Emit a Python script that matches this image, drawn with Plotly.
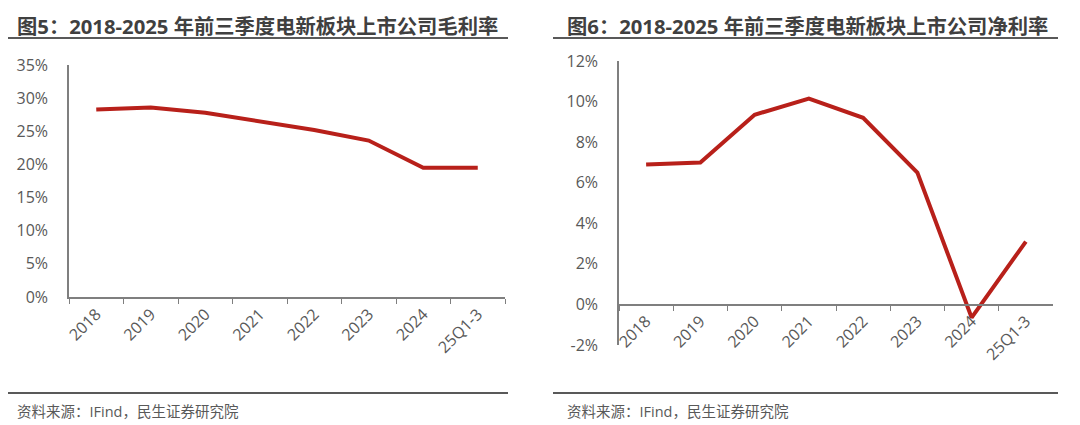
import plotly.graph_objects as go

categories = ["2018", "2019", "2020", "2021", "2022", "2023", "2024", "25Q1-3"]
gross_margin = [28.3, 28.6, 27.8, 26.5, 25.2, 23.6, 19.5, 19.5]
net_margin = [6.9, 7.0, 9.35, 10.15, 9.2, 6.5, -0.65, 3.1]
left_yticks = [0, 5, 10, 15, 20, 25, 30, 35]
right_yticks = [-2, 0, 2, 4, 6, 8, 10, 12]

W, H = 1080, 425
OFF = 8  # page body margin offset
RED = "#B8201A"
AX = "#7F7F7F"
TXT = "#595959"
FONT = "Open Sans, Noto Sans CJK SC, sans-serif"

def px(x):
    return (x - OFF) / W

def py(y):
    return (H - (y - OFF)) / H

fig = go.Figure()
fig.add_trace(go.Scatter(x=categories, y=gross_margin, mode="lines",
                         line=dict(color=RED, width=4), xaxis="x", yaxis="y",
                         showlegend=False, hoverinfo="skip"))
fig.add_trace(go.Scatter(x=categories, y=net_margin, mode="lines",
                         line=dict(color=RED, width=4), xaxis="x2", yaxis="y2",
                         showlegend=False, hoverinfo="skip"))

tickfont = dict(family=FONT, size=16, color=TXT)
xcommon = dict(type="category", range=[-0.5, 7.5], tickangle=-45, showline=True,
               linecolor=AX, linewidth=1.5, ticks="outside", tickcolor=AX, ticklen=5,
               tickwidth=1.2, tickson="boundaries", showgrid=False, zeroline=False,
               tickfont=tickfont, fixedrange=True, automargin=False)
ycommon = dict(showline=True, linecolor=AX, linewidth=1.5, ticks="", showgrid=False,
               zeroline=False, tickfont=tickfont, ticklabelstandoff=16, fixedrange=True,
               automargin=False)

fig.update_layout(
    width=W, height=H, margin=dict(l=0, r=0, t=0, b=0, pad=0, autoexpand=False),
    paper_bgcolor="white", plot_bgcolor="white",
    xaxis=dict(domain=[px(69), px(505)], anchor="y", **xcommon),
    yaxis=dict(domain=[py(297), py(65)], anchor="x", range=[0, 35],
               tickvals=left_yticks, ticktext=[f"{v}%" for v in left_yticks], **ycommon),
    xaxis2=dict(domain=[px(619), px(1053)], anchor="free", position=py(305), **xcommon),
    yaxis2=dict(domain=[py(345), py(61)], anchor="x2", range=[-2, 12],
                tickvals=right_yticks, ticktext=[f"{v}%" for v in right_yticks], **ycommon),
)

titles = [
    ("图5：2018-2025 年前三季度电新板块上市公司毛利率", 15),
    ("图6：2018-2025 年前三季度电新板块上市公司净利率", 565),
]
for text, x0 in titles:
    fig.add_annotation(text="<b>" + text + "</b>", x=px(x0), y=py(26), xref="paper", yref="paper",
                       xanchor="left", yanchor="middle", showarrow=False,
                       font=dict(family=FONT, size=20.3, color="#404040"))
for x0 in (15, 565):
    fig.add_annotation(text="资料来源：IFind，民生证券研究院", x=px(x0), y=py(411),
                       xref="paper", yref="paper", xanchor="left", yanchor="middle",
                       showarrow=False, font=dict(family=FONT, size=14.5, color=TXT))

for (a, b) in ((5, 508), (553, 1058)):
    for yy in (38, 393):
        fig.add_shape(type="line", xref="paper", yref="paper", x0=px(a), x1=px(b),
                      y0=py(yy), y1=py(yy), line=dict(color="#595959", width=2))

fig.write_html("out.html")
